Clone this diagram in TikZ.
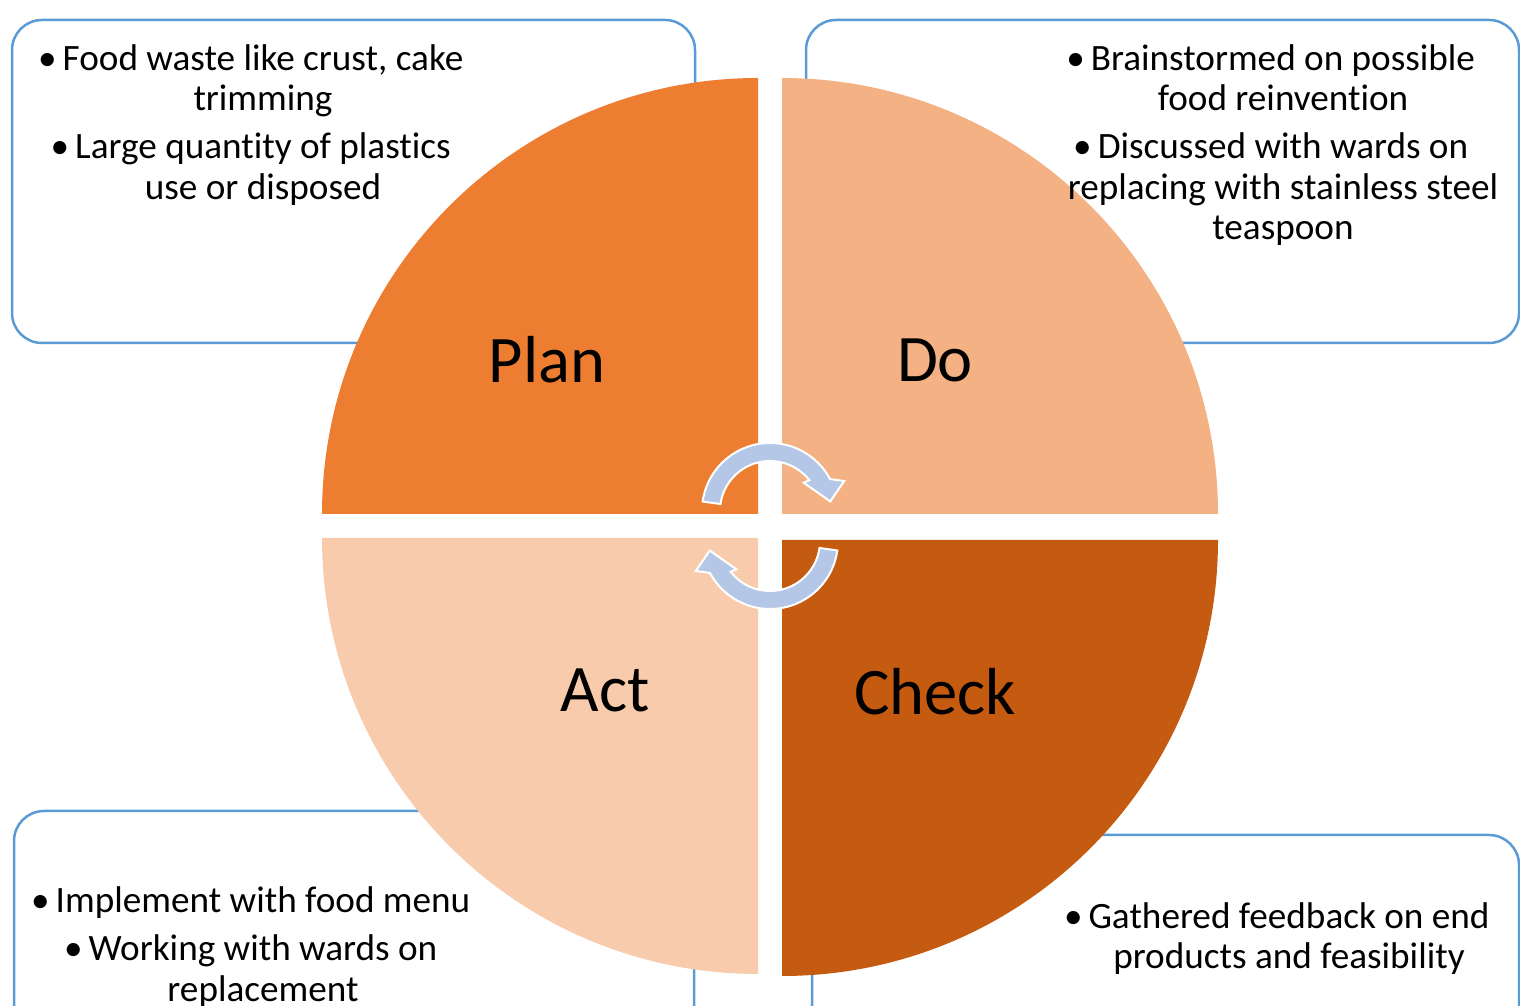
\documentclass[tikz,border=0pt]{standalone}
\usepackage{fontspec}
\usetikzlibrary{calc}
\setmainfont{Carlito}[Ligatures=NoCommon]
\definecolor{boxblue}{HTML}{5B9BD5}
\definecolor{planc}{HTML}{ED7D31}
\definecolor{doc}{HTML}{F4B183}
\definecolor{actc}{HTML}{F8CBAD}
\definecolor{checkc}{HTML}{C55A11}
\definecolor{arrowc}{HTML}{B4C7E7}
\newcommand\bul{\llap{\char"2022\hspace{6pt}}}
\tikzset{
  infobox/.style={draw=boxblue, line width=2.5pt, rounded corners=30pt, fill=white},
  bigtxt/.style={font=\fontsize{66.5}{72}\selectfont, inner sep=0pt},
  smalltxt/.style={font=\fontsize{37.2}{40.5}\selectfont, align=center, inner sep=0pt, anchor=north},
  cyc/.style={fill=arrowc, draw=white, line width=2pt, line join=miter},
}
\begin{document}
\begin{tikzpicture}[x=1pt,y=1pt]
\useasboundingbox (0,0) rectangle (1520,1006);
\clip (0,0) rectangle (1520,1006);
% boxes
\draw[infobox] (12,986) rectangle (695,663);
\draw[infobox] (806,986) rectangle (1519,663);
\draw[infobox] (14,195) rectangle (694,-128);
\draw[infobox] (812,171) rectangle (1519,-152);
% quadrants
\fill[planc] (758,492) -- (758,928) arc[start angle=90,end angle=180,radius=436] -- cycle;
\fill[doc] (782,492) -- (1218,492) arc[start angle=0,end angle=90,radius=436] -- cycle;
\fill[actc] (758,468) -- (322,468) arc[start angle=180,end angle=270,radius=436] -- cycle;
\fill[checkc] (782,466) -- (782,30) arc[start angle=270,end angle=360,radius=436] -- cycle;
% circular arrows
\coordinate (c1) at (770,495);
\draw[cyc] ($(c1)+(172:68)$) arc[start angle=172,end angle=28,radius=68]
  -- ($(c1)+(22:80)$) -- ($(c1)+(9:61)$) -- ($(c1)+(40:44)$) -- ($(c1)+(38:50)$)
  arc[start angle=38,end angle=172,radius=50] -- cycle;
\begin{scope}[rotate around={180:(770,480)}]
\coordinate (c2) at (770,495);
\draw[cyc] ($(c2)+(172:68)$) arc[start angle=172,end angle=28,radius=68]
  -- ($(c2)+(22:80)$) -- ($(c2)+(9:61)$) -- ($(c2)+(40:44)$) -- ($(c2)+(38:50)$)
  arc[start angle=38,end angle=172,radius=50] -- cycle;
\end{scope}
% labels
\node[bigtxt] (plan) at (547,646) {Plan};
\node[bigtxt] (do) at (935,646) {Do};
\node[bigtxt] (act) at (605,316) {Act};
\node[bigtxt] (check) at (935,314) {Check};
% texts
\node[smalltxt] (tl) at (263,962) {\bul Food waste like crust, cake\\ trimming\\[7.5pt] \bul Large quantity of plastics\\ use or disposed};
\node[smalltxt] (tr) at (1283,962) {\bul Brainstormed on possible\\ food reinvention\\[7.5pt] \bul Discussed with wards on\\ replacing with stainless steel\\ teaspoon};
\node[smalltxt] (bl) at (263,119.5) {\bul Implement with food menu\\[7.5pt] \bul Working with wards on\\ replacement};
\node[smalltxt] (br) at (1289,104) {\bul Gathered feedback on end\\ products and feasibility};
\end{tikzpicture}
\end{document}
